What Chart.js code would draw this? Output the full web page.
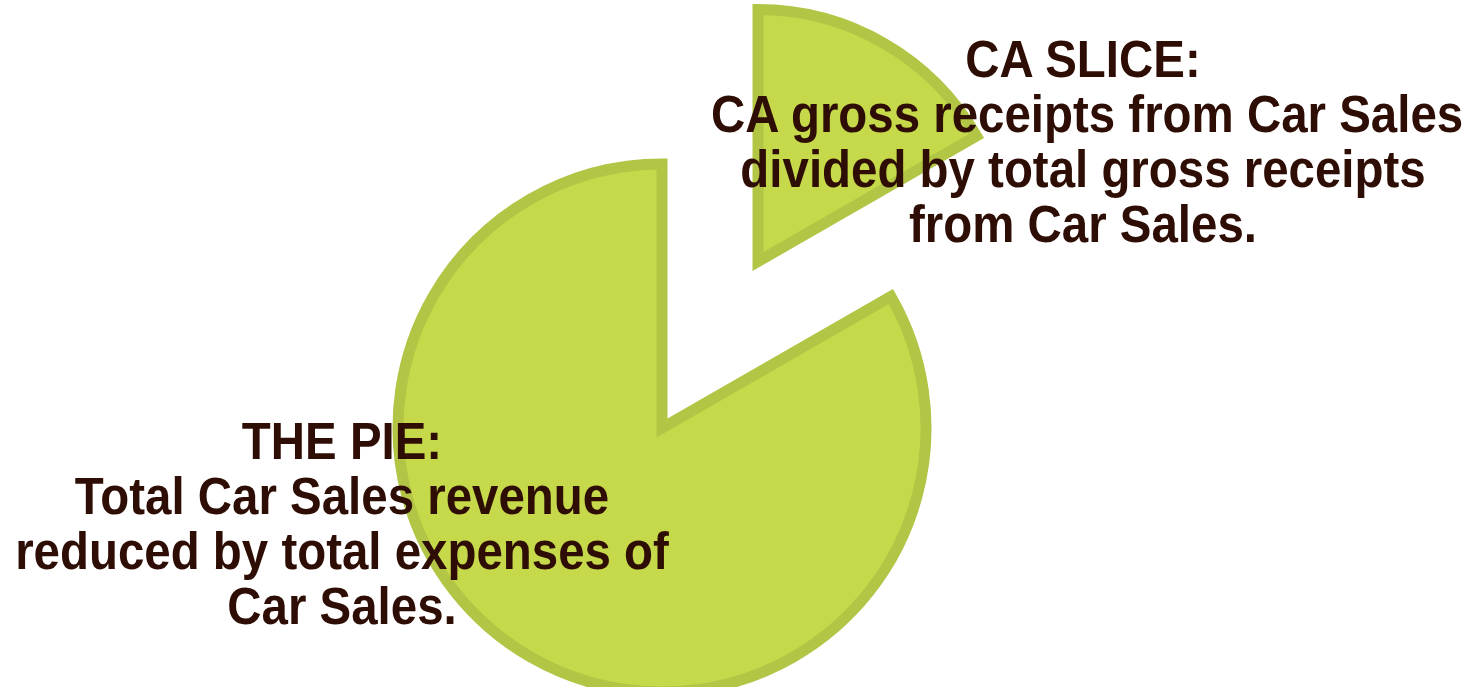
<!DOCTYPE html>
<html>
<head>
<meta charset="utf-8">
<script src="https://cdn.jsdelivr.net/npm/chart.js@4/dist/chart.umd.min.js"></script>
<style>
  html, body { margin: 0; padding: 0; background: #fff; }
  #wrap { position: relative; width: 1470px; height: 687px; overflow: hidden; }
  #wrap canvas { position: absolute; left: 0; top: 0; }
  .note {
    position: absolute;
    font-family: "Liberation Sans", Arial, sans-serif;
    font-weight: bold;
    font-size: 51px;
    line-height: 55px;
    color: #2e0d04;
    text-align: center;
    white-space: nowrap;
    transform: scaleX(0.93);
  }
</style>
</head>
<body>
<div id="wrap">
  <canvas id="pieChart" width="1470" height="687"></canvas>
  <canvas id="sliceChart" width="1470" height="687"></canvas>
  <div class="note" id="sliceNote" style="left:683px; top:32px; width:800px;"></div>
  <div class="note" id="pieNote" style="left:-58px; top:414px; width:800px;"></div>
</div>
<script>
// Data
const categories = ['CA slice', 'Rest of the pie'];
const shares = [16.7, 83.3];

// Labels
const sliceLines = ['CA SLICE:', 'CA gross receipts from Car Sales', 'divided by total gross receipts', 'from Car Sales.'];
const pieLines = ['THE PIE:', 'Total Car Sales revenue', 'reduced by total expenses of', 'Car Sales.'];

const fill = '#c5d94b';
const edge = '#b2c545';
const none = 'rgba(0,0,0,0)';

document.getElementById('sliceNote').innerHTML = sliceLines.join('<br>');
document.getElementById('pieNote').innerHTML = pieLines.join('<br>');

// main pie and pulled-out slice are drawn as two charts (different sizes)
function makePie(id, show, radius, padding) {
  const ctx = document.getElementById(id).getContext('2d');
  return new Chart(ctx, {
    type: 'pie',
    data: {
      labels: categories,
      datasets: [{
        data: shares,
        backgroundColor: show.map(s => s ? fill : none),
        borderColor: show.map(s => s ? edge : none),
        borderWidth: show.map(s => s ? 11 : 0),
        borderAlign: 'center',
        borderJoinStyle: 'miter',
        clip: false
      }]
    },
    options: {
      responsive: false,
      animation: false,
      events: [],
      radius: radius,
      layout: { padding: padding },
      plugins: { legend: { display: false }, tooltip: { enabled: false } }
    }
  });
}

makePie('pieChart', [false, true], 264, { left: 0, right: 146, top: 169, bottom: 0 });
makePie('sliceChart', [true, false], 252, { left: 46, right: 0, top: 0, bottom: 164 });
</script>
</body>
</html>
